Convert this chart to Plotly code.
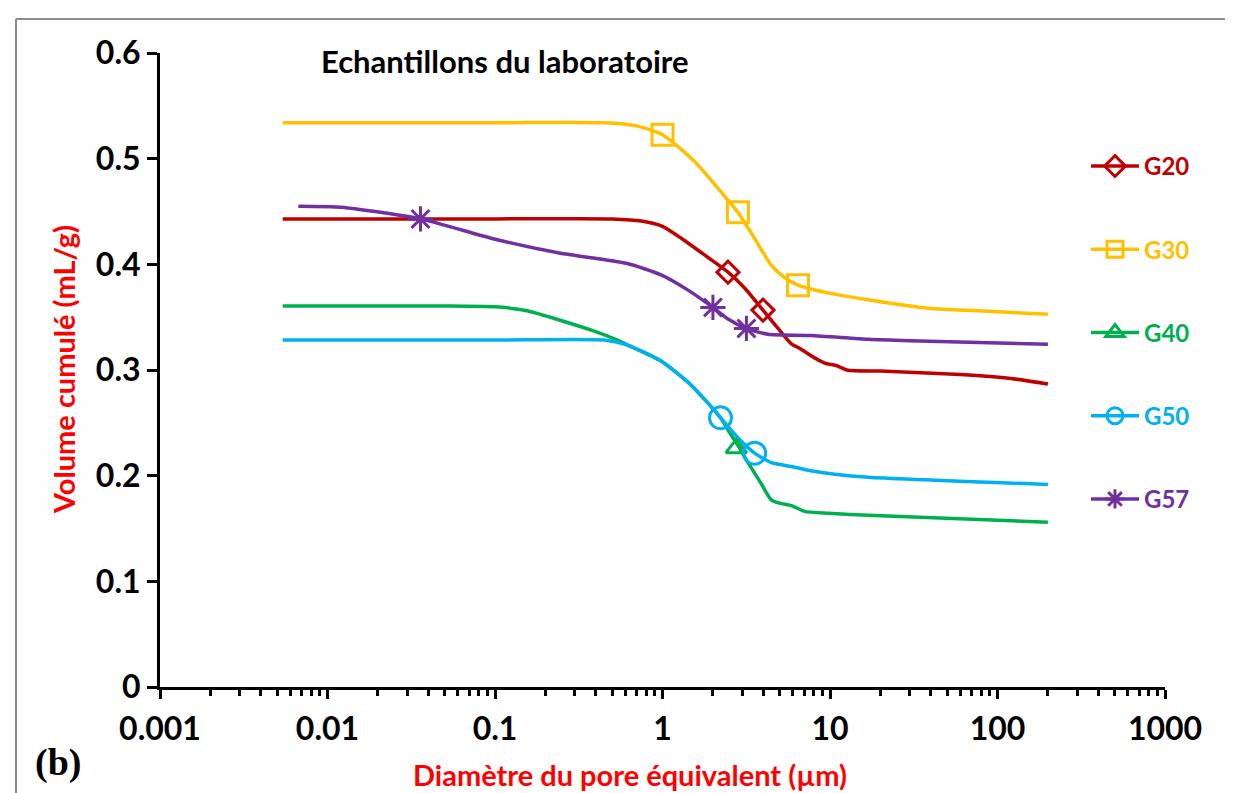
import plotly.graph_objects as go

# ---------------- data ----------------
g20_x = [0.0054, 0.1, 0.5, 0.75, 1.0, 1.3, 1.87, 2.46, 3.1, 3.98, 4.9, 5.88, 6.5, 7.06, 8.2, 9.3, 11.0, 12.8, 20, 60, 120, 200]
g20_y = [0.443, 0.443, 0.443, 0.441, 0.436, 0.4245, 0.4065, 0.3926, 0.3774, 0.3567, 0.3393, 0.3248, 0.321, 0.3175, 0.311, 0.3066, 0.304, 0.2997, 0.299, 0.2957, 0.292, 0.2867]
g20_mx = [2.46, 3.98]
g20_my = [0.3926, 0.3567]

g30_x = [0.0054, 0.1, 0.45, 0.7, 1.0, 1.56, 2.25, 2.82, 3.55, 4.46, 5.3, 6.44, 8.0, 9.73, 16.9, 38.5, 88, 200]
g30_y = [0.534, 0.534, 0.534, 0.531, 0.5226, 0.4971, 0.468, 0.4492, 0.4245, 0.3992, 0.388, 0.3803, 0.376, 0.373, 0.3665, 0.3585, 0.3556, 0.3527]
g30_mx = [1.0, 2.82, 6.44]
g30_my = [0.5226, 0.4492, 0.3803]

g40_x = [0.0054, 0.05, 0.1, 0.153, 0.38, 0.55, 0.62, 0.98, 1.42, 1.87, 2.22, 2.46, 2.82, 3.24, 3.89, 4.46, 5.12, 5.88, 7.06, 9.73, 16.9, 200]
g40_y = [0.3606, 0.3606, 0.3598, 0.3563, 0.3375, 0.3277, 0.3236, 0.3085, 0.2884, 0.2686, 0.2548, 0.2432, 0.2286, 0.2123, 0.1923, 0.1771, 0.1735, 0.1717, 0.1662, 0.1644, 0.1626, 0.156]
g40_mx = [2.76]
g40_my = [0.226]

g50_x = [0.0054, 0.1, 0.45, 0.62, 0.98, 1.42, 1.87, 2.22, 2.82, 3.55, 4.46, 5.88, 7.4, 10.7, 16.9, 200]
g50_y = [0.3284, 0.3284, 0.3284, 0.3236, 0.3085, 0.2884, 0.2686, 0.2548, 0.2359, 0.2213, 0.2123, 0.2087, 0.2051, 0.2014, 0.1985, 0.1916]
g50_mx = [2.22, 3.55]
g50_my = [0.2548, 0.2213]

g57_x = [0.0067, 0.0121, 0.0359, 0.096, 0.242, 0.608, 0.98, 1.42, 2.0, 2.46, 3.17, 4.26, 7.7, 16.9, 30, 200]
g57_y = [0.455, 0.454, 0.443, 0.4245, 0.4107, 0.401, 0.390, 0.3756, 0.3592, 0.3483, 0.3393, 0.3339, 0.3327, 0.3291, 0.3277, 0.3244]
g57_mx = [0.0359, 2.0, 3.17]
g57_my = [0.443, 0.3592, 0.3393]

names = ["G20", "G30", "G40", "G50", "G57"]
colors = ["#C00000", "#FFC000", "#00B050", "#00B0F0", "#7030A0"]
symbols = ["diamond-open", "square-open", "triangle-up-open", "circle-open", "asterisk-open"]
msizes = [17, 21, 18, 22, 21]
series = [
    (g20_x, g20_y, g20_mx, g20_my),
    (g30_x, g30_y, g30_mx, g30_my),
    (g40_x, g40_y, g40_mx, g40_my),
    (g50_x, g50_y, g50_mx, g50_my),
    (g57_x, g57_y, g57_mx, g57_my),
]

FONT = "Lato"

fig = go.Figure()
for name, col, sym, ms, (lx, ly, mx, my) in zip(names, colors, symbols, msizes, series):
    fig.add_trace(go.Scatter(x=lx, y=ly, mode="lines", line=dict(color=col, width=3.5, shape="spline", smoothing=0.6),
                             showlegend=False, hoverinfo="skip"))
for name, col, sym, ms, (lx, ly, mx, my) in zip(names, colors, symbols, msizes, series):
    fig.add_trace(go.Scatter(x=mx, y=my, mode="markers",
                             marker=dict(symbol=sym, size=ms, color=col, line=dict(color=col, width=3)),
                             showlegend=False))
for name, col, sym, ms, _ in zip(names, colors, symbols, msizes, series):
    fig.add_trace(go.Scatter(x=[None], y=[None], mode="lines+markers", name=f"<b><span style='color:{col}'>{name}</span></b>",
                             legendgroup=name,
                             line=dict(color=col, width=3.5),
                             marker=dict(symbol=sym, size=ms, color=col, line=dict(color=col, width=3))))

L, R, T, B = 152, 76, 45, 114
W, H = 1233, 793
pw, ph = W - L - R, H - T - B

def px(xp):
    return (xp - L) / pw

def py(yp):
    return (H - B - yp) / ph

fig.update_layout(
    width=W, height=H,
    margin=dict(l=L, r=R, t=T, b=B),
    paper_bgcolor="white", plot_bgcolor="white",
    font=dict(family=FONT, color="black"),
    showlegend=True,
    legend=dict(x=px(1078), y=py(136), xanchor="left", yanchor="top",
                font=dict(family=FONT, size=24), tracegroupgap=49,
                bgcolor="rgba(0,0,0,0)", itemwidth=48),
    xaxis=dict(type="log", range=[-3, 3], showline=True, linewidth=3, linecolor="black",
               ticks="outside", ticklen=9, tickwidth=3, tickcolor="black",
               tickfont=dict(family=FONT, size=32, color="black", weight="bold"),
               showgrid=False, zeroline=False, ticklabelstandoff=3,
               minor=dict(ticks="outside", ticklen=6, tickwidth=2.5, tickcolor="black", dtick="D1", showgrid=False),
               tickvals=[0.001, 0.01, 0.1, 1, 10, 100, 1000],
               ticktext=["0.001", "0.01", "0.1", "1", "10", "100", "1000"]),
    yaxis=dict(range=[0, 0.6], showline=True, linewidth=3, linecolor="black",
               ticks="outside", ticklen=10, tickwidth=3, tickcolor="black",
               tickfont=dict(family=FONT, size=32, color="black", weight="bold"),
               showgrid=False, zeroline=False, ticklabelstandoff=0,
               tickvals=[0, 0.1, 0.2, 0.3, 0.4, 0.5, 0.6],
               ticktext=["0", "0.1", "0.2", "0.3", "0.4", "0.5", "0.6"]),
)

fig.add_annotation(text="<b>Echantillons du laboratoire</b>", xref="paper", yref="paper",
                   x=px(311), y=py(53), xanchor="left", yanchor="middle", showarrow=False,
                   font=dict(family=FONT, size=31, color="black"))
fig.add_annotation(text="<b>Diamètre du pore équivalent (µm)</b>", xref="paper", yref="paper",
                   x=px(622), y=py(766), xanchor="center", yanchor="middle", showarrow=False,
                   font=dict(family=FONT, size=29, color="#FF0000"))
fig.add_annotation(text="<b>Volume cumulé (mL/g)</b>", xref="paper", yref="paper",
                   x=px(55), y=py(362), xanchor="center", yanchor="middle", showarrow=False, textangle=-90,
                   font=dict(family=FONT, size=29, color="#FF0000"))
fig.add_annotation(text="<b>(b)</b>", xref="paper", yref="paper",
                   x=px(50), y=py(754), xanchor="center", yanchor="middle", showarrow=False,
                   font=dict(family="Liberation Serif", size=38, color="black"))

# figure border (left and top)
fig.add_shape(type="line", xref="paper", yref="paper", x0=px(8), x1=px(8), y0=py(11), y1=py(800),
              line=dict(color="#8c8c8c", width=2))
fig.add_shape(type="line", xref="paper", yref="paper", x0=px(8), x1=px(1240), y0=py(11), y1=py(11),
              line=dict(color="#8c8c8c", width=2))

fig.write_html("out.html")
